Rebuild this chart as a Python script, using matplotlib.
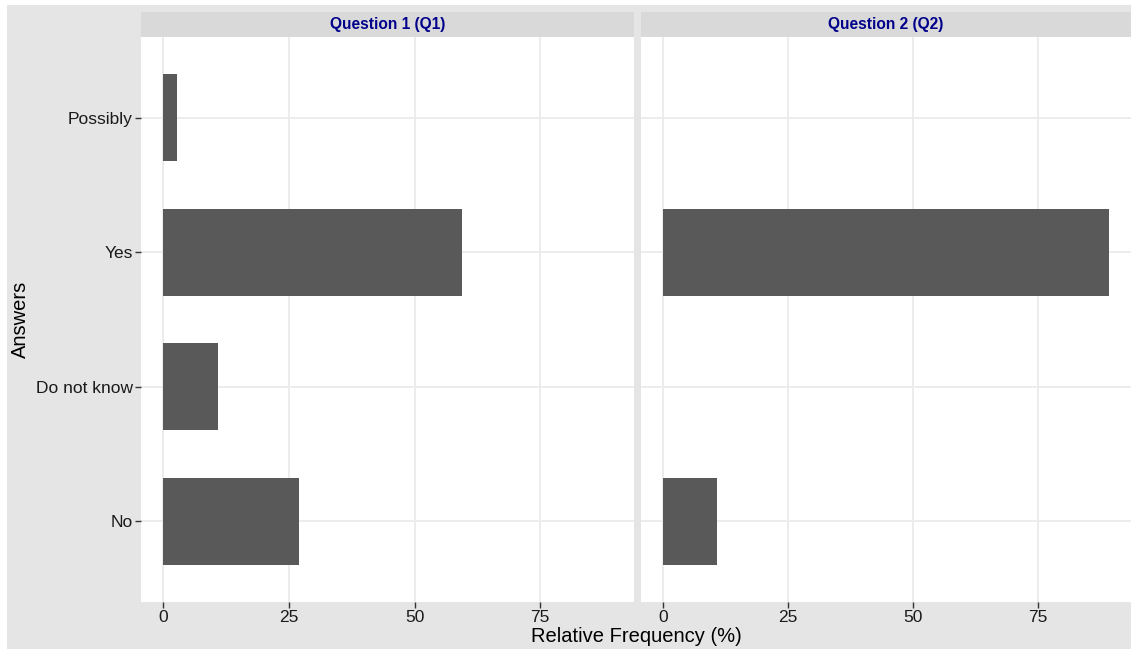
import matplotlib.pyplot as plt
from matplotlib.patches import Rectangle

plt.rcParams['font.family'] = ['Liberation Sans', 'DejaVu Sans']

# Data
answers = ['No', 'Do not know', 'Yes', 'Possibly']
q1_freq = [27.0, 10.8, 59.5, 2.7]
q2_freq = [10.8, 0.0, 89.2, 0.0]
facet_titles = ['Question 1 (Q1)', 'Question 2 (Q2)']
x_ticks = [0, 25, 50, 75]

W, H = 1131, 649
fig = plt.figure(figsize=(W / 100, H / 100), dpi=100)
fig.patch.set_facecolor('white')
# light grey plot background (ggplot style)
fig.patches.append(Rectangle((7 / W, 0), 1 - 7 / W, 1 - 5 / H, transform=fig.transFigure,
                             facecolor='#E5E5E5', edgecolor='none', zorder=-10))


def rect(x0, y0, x1, y1):
    return [x0 / W, 1 - y1 / H, (x1 - x0) / W, (y1 - y0) / H]


xmax = max(max(q1_freq), max(q2_freq))
xlim = (-0.05 * xmax, 1.05 * xmax)
ypos = list(range(1, len(answers) + 1))

panels = [(141, 634, q1_freq), (641, 1131, q2_freq)]
for i, (x0, x1, freq) in enumerate(panels):
    ax = fig.add_axes(rect(x0, 37, x1, 602))
    ax.set_facecolor('white')
    ax.barh(ypos, freq, height=0.65, color='#595959', zorder=3)
    ax.set_xlim(*xlim)
    ax.set_ylim(0.4, len(answers) + 0.6)
    ax.set_xticks(x_ticks)
    ax.set_yticks(ypos)
    ax.grid(True, color='#EBEBEB', linewidth=1.3, zorder=0)
    for s in ax.spines.values():
        s.set_visible(False)
    ax.tick_params(axis='x', length=4, width=1, color='#333333', labelsize=12.5,
                   labelcolor='#1A1A1A', pad=1.5)
    if i == 0:
        ax.set_yticklabels(answers)
        ax.tick_params(axis='y', length=4, width=1, color='#333333', labelsize=12.5,
                       labelcolor='#1A1A1A', pad=2)
    else:
        ax.tick_params(axis='y', length=0, labelleft=False)

    # facet strip
    st = fig.add_axes(rect(x0, 12, x1, 37))
    st.set_facecolor('#D9D9D9')
    st.set_xticks([])
    st.set_yticks([])
    for s in st.spines.values():
        s.set_visible(False)
    st.text(0.5, 0.5, facet_titles[i], ha='center', va='center', fontsize=11.2,
            fontweight='bold', color='#00008B', transform=st.transAxes)

fig.text((141 + 1131) / 2 / W, 1 - 637 / H, 'Relative Frequency (%)', ha='center',
         va='center', fontsize=14.5, color='black')
fig.text(20 / W, 1 - 319 / H, 'Answers', ha='center', va='center', rotation=90,
         fontsize=14.5, color='black')

fig.savefig('out.png', dpi=100)
